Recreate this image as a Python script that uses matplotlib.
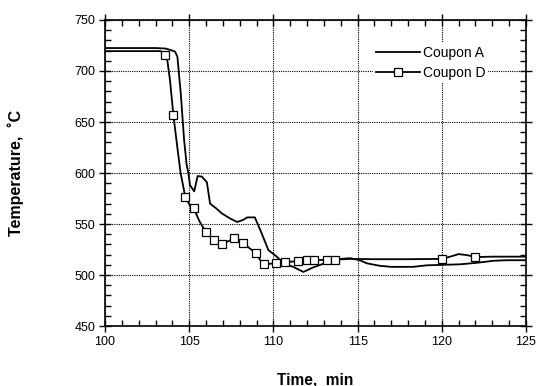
import matplotlib
matplotlib.use("Agg")
import matplotlib.pyplot as plt
from matplotlib.ticker import MultipleLocator

plt.rcParams['font.family'] = ['Liberation Sans', 'DejaVu Sans']

# Coupon A (line only)
a_time = [100.0, 103.0, 103.6, 104.0, 104.16, 104.3, 104.5, 104.7, 104.85, 104.95, 105.05,
          105.3, 105.5, 105.75, 106.05, 106.24, 106.63, 106.93, 107.42, 107.85, 108.2,
          108.45, 108.9, 109.3, 109.7, 110.2, 110.59, 111.18, 111.78, 112.37, 112.96,
          113.76, 114.55, 115.14, 115.54, 116.33, 117.0, 118.3, 119.1, 120.1, 121.1,
          122.1, 123.1, 123.9, 125.0]
a_temp = [722.5, 722.5, 722, 720, 719, 714, 678, 632, 608, 600, 588,
          582, 597, 596.5, 591, 570, 565, 560.5, 555.5, 552, 554,
          556.5, 556.5, 541, 524.5, 518, 511.5, 508, 503, 507.5, 511,
          515.5, 516.5, 514.5, 511.5, 509, 508, 508, 509.5, 510, 510.5,
          512, 514, 514.5, 514.5]

# Coupon D marker points
d_time = [103.57, 104.06, 104.77, 105.27, 105.99, 106.45, 106.97, 107.68,
          108.21, 108.97, 109.46, 110.18, 110.7, 111.48, 111.97, 112.43, 113.16,
          113.66, 120.0, 122.0]
d_temp = [716, 657, 576.5, 565.4, 542, 534.3, 530, 536,
          531.7, 521.5, 510.5, 512, 512.5, 513.7, 514.5, 514.7, 514.8,
          515, 515.8, 517.6]
# Coupon D connecting line
d_line_time = [100.0, 103.3, 103.57, 103.7, 103.86, 104.06, 104.29, 104.49, 104.77,
               105.05, 105.27, 105.6, 105.99, 106.45, 106.97, 107.3, 107.68, 108.0,
               108.21, 108.6, 108.97, 109.2, 109.46, 109.8, 110.18, 110.7, 111.48,
               111.97, 112.43, 113.16, 113.66, 114.5, 116.0, 118.0, 120.0, 120.5,
               121.0, 121.5, 122.0, 123.0, 125.0]
d_line_temp = [719.5, 719.5, 716, 710.8, 691, 657, 626, 600, 576.5,
               568, 565.4, 553, 542, 534.3, 530, 533, 536, 534,
               531.7, 526, 521.5, 515, 510.5, 511, 512, 512.5, 513.7,
               514.5, 514.7, 514.8, 515, 515.8, 515.5, 515.5, 515.8, 518,
               520.5, 519.5, 517.6, 518, 518]

fig = plt.figure(figsize=(5.37, 3.86), dpi=100)
ax = fig.add_axes([0.1955, 0.1554, 0.784, 0.7928])

ax.plot(a_time, a_temp, color='black', lw=1.3, label='Coupon A', zorder=3)
ax.plot(d_line_time, d_line_temp, color='black', lw=1.3, zorder=3)
ax.plot(d_time, d_temp, linestyle='none', marker='s', ms=6, mfc='white',
        mec='black', mew=0.9, zorder=4)
ax.plot([], [], color='black', lw=1.3, marker='s', ms=6, mfc='white', mec='black',
        mew=0.9, label='Coupon D')

ax.set_xlim(100, 125)
ax.set_ylim(450, 750)
ax.xaxis.set_major_locator(MultipleLocator(5))
ax.xaxis.set_minor_locator(MultipleLocator(1))
ax.yaxis.set_major_locator(MultipleLocator(50))
ax.yaxis.set_minor_locator(MultipleLocator(10))
ax.tick_params(which='major', direction='inout', length=8, width=1.0,
               top=True, right=True, labelsize=9, pad=3)
ax.tick_params(which='minor', direction='in', length=4, width=1.0,
               top=True, right=True)
for s in ax.spines.values():
    s.set_linewidth(1.2)
ax.grid(True, which='major', color='black', linestyle=(0, (1, 1)), lw=0.8)

ax.set_xlabel('Time,  min', fontsize=11.2, fontweight='bold', va='center')
ax.set_ylabel('Temperature,  \u02daC', fontsize=11.5, fontweight='bold', va='center')
ax.xaxis.set_label_coords(0.5, -0.176)
ax.yaxis.set_label_coords(-0.212, 0.5)

leg = ax.legend(loc='upper left', bbox_to_anchor=(0.637, 0.925), frameon=True,
                fontsize=10, handlelength=3.2, handletextpad=0.2,
                labelspacing=0.45, borderpad=0.2, borderaxespad=0)
leg.get_frame().set_edgecolor('none')
leg.get_frame().set_facecolor('white')
leg.get_frame().set_alpha(1.0)

fig.savefig('out.png', dpi=100)
